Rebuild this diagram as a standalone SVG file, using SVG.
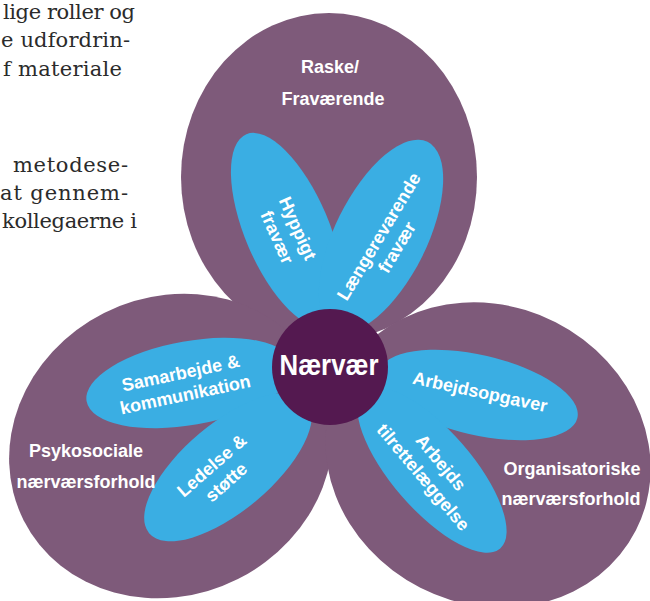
<svg xmlns="http://www.w3.org/2000/svg" width="650" height="601" viewBox="0 0 650 601">
  <style>
    .body { font-family: "DejaVu Serif", "Liberation Serif", serif; font-size: 21px; fill: #2b2b2b; }
    .outer { fill: #7e5a7a; }
    .inner { fill: #3aaee3; }
    .core { fill: #541950; }
    .lbl { font-family: "Liberation Sans", Arial, sans-serif; font-weight: bold; font-size: 18px; fill: #ffffff; text-anchor: middle; }
    .big { font-family: "Liberation Sans", Arial, sans-serif; font-weight: bold; font-size: 30px; fill: #ffffff; text-anchor: middle; }
  </style>
  <rect width="650" height="601" fill="#ffffff"/>

  <g id="bodytext">
    <text class="body" x="3" y="19" textLength="132" lengthAdjust="spacing">lige roller og</text>
    <text class="body" x="1" y="47" textLength="129" lengthAdjust="spacing">e udfordrin-</text>
    <text class="body" x="3" y="76" textLength="119" lengthAdjust="spacing">f materiale</text>
    <text class="body" x="13" y="172" textLength="115" lengthAdjust="spacing">metodese-</text>
    <text class="body" x="0" y="200" textLength="128" lengthAdjust="spacing">at gennem-</text>
    <text class="body" x="2" y="228" textLength="135" lengthAdjust="spacing">kollegaerne i</text>
  </g>

  <g id="petal-raske">
    <ellipse class="outer" cx="329" cy="177" rx="148" ry="164"/>
  </g>
  <g id="petal-psykosociale">
    <ellipse class="outer" cx="171" cy="446" rx="165" ry="149" transform="rotate(-26.7 171 446)"/>
  </g>
  <g id="petal-organisatoriske">
    <ellipse class="outer" cx="488" cy="455" rx="166" ry="149" transform="rotate(27 488 455)"/>
  </g>

  <g id="leaf-hyppigt">
    <ellipse class="inner" cx="287" cy="230" rx="42" ry="104" transform="rotate(-23 287 230)"/>
  </g>
  <g id="leaf-laengerevarende">
    <ellipse class="inner" cx="381" cy="236" rx="46" ry="105" transform="rotate(26.3 381 236)"/>
  </g>
  <g id="leaf-samarbejde">
    <ellipse class="inner" cx="190" cy="383" rx="105" ry="42" transform="rotate(-10 190 383)"/>
  </g>
  <g id="leaf-ledelse">
    <ellipse class="inner" cx="228" cy="467" rx="103" ry="44" transform="rotate(-40 228 467)"/>
  </g>
  <g id="leaf-arbejdsopgaver">
    <ellipse class="inner" cx="478" cy="395" rx="102" ry="40" transform="rotate(13 478 395)"/>
  </g>
  <g id="leaf-tilrettelaeggelse">
    <ellipse class="inner" cx="432" cy="470" rx="104" ry="40" transform="rotate(49 432 470)"/>
  </g>

  <g id="center-naervaer">
    <circle class="core" cx="330" cy="367" r="58"/>
    <text class="big" x="329" y="375" textLength="99" lengthAdjust="spacingAndGlyphs">Nærvær</text>
  </g>

  <g id="connectors"></g>

  <g id="labels">
    <text class="lbl" x="330" y="73">Raske/</text>
    <text class="lbl" x="333" y="105">Fraværende</text>
    <text class="lbl" x="86" y="457">Psykosociale</text>
    <text class="lbl" x="86" y="488">nærværsforhold</text>
    <text class="lbl" x="572" y="475">Organisatoriske</text>
    <text class="lbl" x="571" y="505">nærværsforhold</text>

    <g transform="translate(287 233) rotate(66)">
      <text class="lbl" x="0" y="-5.5">Hyppigt</text>
      <text class="lbl" x="0" y="17">fravær</text>
    </g>
    <g transform="translate(388 242) rotate(-59)">
      <text class="lbl" x="0" y="-4.5">Længerevarende</text>
      <text class="lbl" x="0" y="16.5">fravær</text>
    </g>
    <g transform="translate(183 384) rotate(-12)">
      <text class="lbl" x="0" y="-5">Samarbejde &amp;</text>
      <text class="lbl" x="0" y="17">kommunikation</text>
    </g>
    <g transform="translate(219 474) rotate(-41)">
      <text class="lbl" x="0" y="-5">Ledelse &amp;</text>
      <text class="lbl" x="0" y="17">støtte</text>
    </g>
    <g transform="translate(480 392) rotate(12)">
      <text class="lbl" x="0" y="6">Arbejdsopgaver</text>
    </g>
    <g transform="translate(432 470) rotate(50)">
      <text class="lbl" x="0" y="-5.5">Arbejds</text>
      <text class="lbl" x="0" y="17.5">tilrettelæggelse</text>
    </g>
  </g>
</svg>
